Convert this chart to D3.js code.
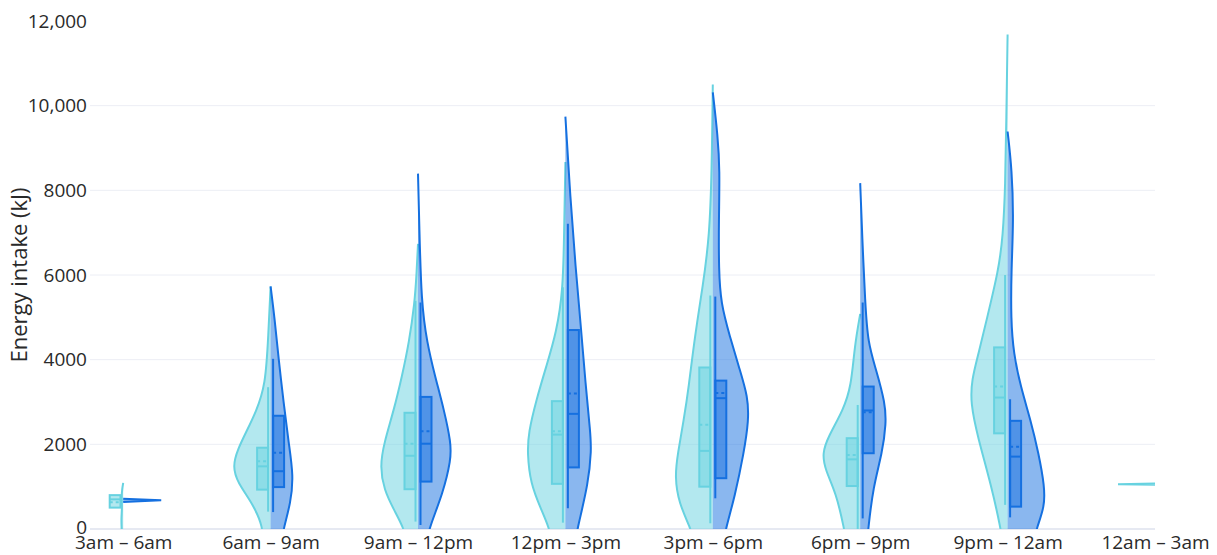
<!doctype html>
<html>
<head>
<script src="https://d3js.org/d3.v7.min.js"></script>
<style>
  body { margin: 0; background: #fff; }
  text { font-family: "Open Sans", sans-serif; fill: #2a2a2a; }
</style>
</head>
<body>
<div id="chart"></div>
<script>
const categories = ["3am \u2013 6am", "6am \u2013 9am", "9am \u2013 12pm", "12pm \u2013 3pm",
                    "3pm \u2013 6pm", "6pm \u2013 9pm", "9pm \u2013 12am", "12am \u2013 3am"];
const yTicks = [0, 2000, 4000, 6000, 8000, 10000, 12000];

// violin outlines: [energy (kJ), density], one list per time slot
const leftDensity = [
    [[-200, 1.5], [0, 1.5], [250, 2], [500, 1], [750, 1.8], [950, 1], [1090, 0]],
    [[-300, 9], [16, 7], [610, 18], [1090, 33], [1480, 38], [1880, 33], [2360, 23], [2750, 15], [3390, 5], [4580, 2.3], [5730, 0]],
    [[-300, 12], [16, 14], [450, 24], [925, 34], [1480, 38], [2030, 34], [2820, 24], [3610, 16], [4400, 9], [5350, 3.3], [6000, 1.5], [6735, 0]],
    [[-300, 14], [16, 16], [450, 24], [1080, 35], [1795, 38], [2270, 37], [3060, 29], [3850, 19], [4640, 9], [5650, 2.3], [7010, 1.3], [8670, 0]],
    [[-300, 19], [16, 22], [607, 34], [1240, 38], [1790, 35], [2575, 29], [3365, 24], [4550, 18], [5730, 10], [6910, 3.3], [8490, 1], [10500, 0]],
    [[-300, 14], [0, 16], [845, 24], [1395, 35], [1790, 38], [2180, 32], [2810, 17], [3365, 9], [4310, 5.7], [5080, 0]],
    [[-300, 5], [16, 7], [1000, 16], [2180, 30], [2970, 37], [3520, 36], [4150, 29], [4940, 21], [6120, 9], [6910, 4.7], [8090, 2.3], [9670, 1.3], [11680, 0]],
    [[1045, 0], [1060, 37], [1075, 0]]
];
const rightDensity = [
    [[640, 0], [678, 38], [716, 0]],
    [[-300, 11], [16, 13], [610, 20], [1250, 23], [2040, 18], [2990, 13], [4020, 8], [4980, 4], [5730, 0]],
    [[-300, 9], [16, 11], [845, 25], [1640, 33], [2030, 33], [2820, 26], [3610, 17], [4400, 9], [5350, 3.3], [7170, 1.3], [8395, 0]],
    [[-300, 10], [16, 12], [1080, 23], [1875, 26], [2270, 25], [3455, 20], [4640, 16], [6220, 10], [7800, 5], [9740, 0]],
    [[-300, 11], [16, 13], [765, 22], [1790, 31], [2575, 36], [3130, 35], [3760, 27], [4550, 17], [5335, 8], [6120, 6], [7300, 6], [8490, 7], [9275, 5], [10315, 0]],
    [[-300, 7], [0, 8], [1000, 13], [1790, 22], [2500, 26], [2970, 25], [3760, 16], [4390, 7.7], [5335, 5], [6910, 2], [8170, 0]],
    [[-300, 26], [16, 29], [528, 37], [1000, 37], [1790, 31], [2575, 23], [3365, 13], [4150, 6], [4940, 3.3], [6120, 3.7], [7300, 6], [8490, 4.3], [9390, 0]],
    []
];

// box stats: [lower whisker, q1, median, mean, q3, upper whisker]
const leftBox = [
    [505, 505, 700, 630, 800, 800],
    [410, 930, 1480, 1600, 1920, 3350],
    [175, 940, 1730, 2015, 2745, 5390],
    [150, 1067, 2230, 2310, 3020, 5710],
    [135, 1000, 1845, 2460, 3815, 5515],
    [0, 1015, 1645, 1750, 2145, 2930],
    [570, 2260, 3105, 3365, 4290, 6000],
    null
];
const rightBox = [
    null,
    [400, 990, 1365, 1800, 2675, 4020],
    [95, 1120, 2015, 2310, 3120, 5350],
    [490, 1455, 2720, 3200, 4700, 7210],
    [725, 1200, 3090, 3210, 3505, 5490],
    [250, 1790, 2800, 2760, 3365, 5350],
    [275, 528, 1710, 1945, 2555, 3065],
    null
];

const width = 1217, height = 555;
const margin = {left: 90, right: 1155, top: 21, bottom: 529};
const leftColor = "#67d2e0", rightColor = "#1570e0";

const x = d3.scalePoint().domain(categories).range([123.2, margin.right]);
const y = d3.scaleLinear().domain([0, 12000]).range([margin.bottom, margin.top]);
const w = d3.scaleLinear().domain([0, 40]).range([0, 40]);

const svg = d3.select("#chart").append("svg")
    .attr("width", width)
    .attr("height", height);

svg.append("clipPath").attr("id", "plot")
    .append("rect")
    .attr("x", margin.left).attr("y", margin.top)
    .attr("width", margin.right - margin.left).attr("height", margin.bottom - margin.top);

// grid
svg.selectAll("line.grid")
    .data(yTicks.filter(d => d > 0 && d < 12000))
    .enter().append("line")
    .attr("class", "grid")
    .attr("x1", margin.left).attr("x2", margin.right)
    .attr("y1", y).attr("y2", y)
    .attr("stroke", "#eceef5")
    .attr("stroke-width", 1);

svg.append("line")
    .attr("x1", margin.left).attr("x2", margin.right)
    .attr("y1", y(0)).attr("y2", y(0))
    .attr("stroke", "#e6e9f2")
    .attr("stroke-width", 2);

const plot = svg.append("g").attr("clip-path", "url(#plot)");

function drawHalf(profile, box, i, side, color) {
    if (!profile.length) return;
    const cx = x(categories[i]);
    const curve = profile.length > 3 ? d3.curveBasis : d3.curveLinear;
    const area = d3.area()
        .curve(curve)
        .y(d => y(d[0]))
        .x0(cx)
        .x1(d => cx + side * w(d[1]));
    const edge = d3.line()
        .curve(curve)
        .y(d => y(d[0]))
        .x(d => cx + side * w(d[1]));

    plot.append("path")
        .attr("d", area(profile))
        .attr("fill", color)
        .attr("fill-opacity", 0.5);
    plot.append("path")
        .attr("d", edge(profile))
        .attr("fill", "none")
        .attr("stroke", color)
        .attr("stroke-width", 2);

    if (!box) return;
    const [lo, q1, med, mean, q3, hi] = box;
    const inner = cx + side * 2.5, outer = cx + side * 13.5;
    const bx = Math.min(inner, outer), bw = Math.abs(outer - inner);
    const g = plot.append("g");
    g.append("line")
        .attr("x1", inner).attr("x2", inner)
        .attr("y1", y(lo)).attr("y2", y(hi))
        .attr("stroke", color).attr("stroke-width", 2);
    g.append("rect")
        .attr("x", bx).attr("width", bw)
        .attr("y", y(q3)).attr("height", y(q1) - y(q3))
        .attr("fill", color).attr("fill-opacity", 0.5)
        .attr("stroke", color).attr("stroke-width", 2);
    g.append("line")
        .attr("x1", bx).attr("x2", bx + bw)
        .attr("y1", y(med)).attr("y2", y(med))
        .attr("stroke", color).attr("stroke-width", 2);
    g.append("line")
        .attr("x1", bx).attr("x2", bx + bw)
        .attr("y1", y(mean)).attr("y2", y(mean))
        .attr("stroke", color).attr("stroke-width", 2)
        .attr("stroke-dasharray", "3,3");
}

categories.forEach((c, i) => {
    drawHalf(leftDensity[i], leftBox[i], i, -1, leftColor);
    drawHalf(rightDensity[i], rightBox[i], i, 1, rightColor);
});

// axes
const yAxis = d3.axisLeft(y)
    .tickValues(yTicks)
    .tickSize(0)
    .tickPadding(3)
    .tickFormat(d => d >= 10000 ? d3.format(",")(d) : String(d));
svg.append("g")
    .attr("transform", `translate(${margin.left},0)`)
    .call(yAxis)
    .call(g => g.select(".domain").remove())
    .selectAll("text")
    .attr("dy", d => d === 0 ? "0.25em" : "0.32em")
    .style("font-size", "19px")
    .attr("fill", "#2a2a2a");

const xAxis = d3.axisBottom(x).tickSize(0).tickPadding(7);
svg.append("g")
    .attr("transform", `translate(0,${margin.bottom})`)
    .call(xAxis)
    .call(g => g.select(".domain").remove())
    .selectAll("text")
    .style("font-size", "19px")
    .attr("fill", "#2a2a2a");

svg.append("text")
    .attr("transform", `translate(27,${(margin.top + margin.bottom) / 2}) rotate(-90)`)
    .attr("text-anchor", "middle")
    .style("font-size", "22px")
    .text("Energy intake (kJ)");
</script>
</body>
</html>
